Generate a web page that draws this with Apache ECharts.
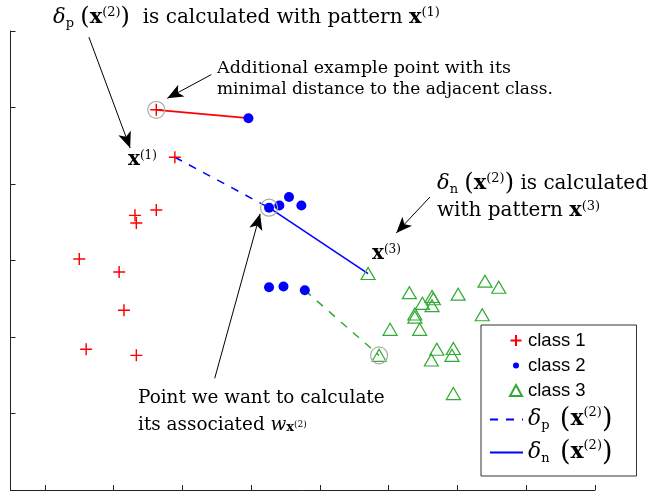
<!DOCTYPE html>
<html>
<head>
<meta charset="utf-8">
<script src="https://cdn.jsdelivr.net/npm/echarts@6/dist/echarts.min.js"></script>
<style>
  html, body { margin: 0; padding: 0; background: #fff; }
  #chart { width: 653px; height: 496px; }
</style>
</head>
<body>
<div id="chart"></div>
<script>
// axis ranges and tick positions (tick units, no labels on the picture)
var xRange = [-0.5, 8];
var yRange = [0, 6];
var xTicks = [0, 1, 2, 3, 4, 5, 6, 7, 8];

// class 1 (red +), first one is the circled "additional example", second is x(1)
var class1 = [
  [1.62, 4.97], [1.89, 4.35], [1.31, 3.59], [1.33, 3.49], [1.62, 3.66],
  [0.50, 3.02], [1.08, 2.85], [1.15, 2.35], [0.60, 1.84], [1.33, 1.76]
];
// class 2 (blue dots), index 1 is x(2)
var class2 = [
  [2.96, 4.86], [3.26, 3.69], [3.41, 3.72], [3.55, 3.83], [3.73, 3.72],
  [3.26, 2.65], [3.47, 2.66], [3.78, 2.61]
];
// class 3 (green triangles), index 0 is x(3), index 14 is circled
var class3 = [
  [4.70, 2.83], [5.30, 2.58], [5.63, 2.53], [5.65, 2.50], [5.49, 2.44],
  [5.63, 2.41], [5.38, 2.30], [5.38, 2.26], [6.01, 2.56], [6.40, 2.73],
  [6.60, 2.65], [6.36, 2.29], [5.02, 2.10], [5.45, 2.10], [4.86, 1.76],
  [5.70, 1.84], [5.94, 1.85], [5.62, 1.70], [5.92, 1.76], [5.94, 1.26]
];

var deltaP = [class1[1], class2[1]];
var deltaN = [class2[1], class3[0]];
var extraRed = [class1[0], class2[0]];
var extraGreen = [class2[7], class3[14]];
var circled = [class1[0], class2[1], class3[14]];

// annotation arrows [from, to]
var arrows = [
  [[0.64, 5.92], [1.24, 4.47]],
  [[2.42, 5.43], [1.78, 5.12]],
  [[5.60, 3.83], [5.11, 3.36]],
  [[2.47, 1.46], [3.13, 3.61]]
];

var RED = '#ff0000', BLUE = '#0000ff', GREEN = '#33aa33';
var PLUS = 'path://M4.4,0H5.6V4.4H10V5.6H5.6V10H4.4V5.6H0V4.4H4.4Z';
var SERIF = 'DejaVu Serif';

// legend icons drawn in a 33x14 box (the extra moves keep the box size)
var ICON_PLUS = 'path://M0,0M33,14M25,1.5H27V6H31.5V8H27V12.5H25V8H20.5V6H25Z';
var ICON_DOT = 'path://M0,0M33,14M23,7A3,3 0 1,0 29,7A3,3 0 1,0 23,7Z';
var ICON_TRI = 'path://M0,0M33,14M26,1.5L32,12.5L20,12.5Z';

function delta(sub, sup) {
  return '{m|δ}{sb|' + sub + '} {p|(}{b|x}{sp|(' + sup + ')}{p|)}';
}

function makeRich(s) {
  return {
    m: { fontFamily: SERIF, fontStyle: 'italic', fontSize: s + 1, fill: '#000' },
    sb: { fontFamily: SERIF, fontSize: Math.round(s * 0.65), verticalAlign: 'bottom', fill: '#000' },
    p: { fontFamily: SERIF, fontSize: s + 4, fill: '#000' },
    b: { fontFamily: SERIF, fontWeight: 'bold', fontSize: s + 1, fill: '#000' },
    sp: { fontFamily: SERIF, fontSize: Math.round(s * 0.65), verticalAlign: 'top', fill: '#000' },
    t: { fontFamily: SERIF, fontSize: s, fill: '#000' },
    w: { fontFamily: SERIF, fontStyle: 'italic', fontSize: s, fill: '#000' },
    ws: { fontFamily: SERIF, fontWeight: 'bold', fontSize: 13, verticalAlign: 'bottom', fill: '#000' },
    wss: { fontFamily: SERIF, fontSize: 9, verticalAlign: 'middle', fill: '#000' }
  };
}

function label(x, y, text, size) {
  return {
    type: 'text', x: x, y: y, z: 100,
    style: {
      text: text, rich: makeRich(size), fill: '#000',
      font: size + 'px "' + SERIF + '"',
      verticalAlign: 'middle'
    }
  };
}

var legendNames = {
  'class 1': 'class 1',
  'class 2': 'class 2',
  'class 3': 'class 3',
  'dp': '{lm|δ}{lsb|p}  {lp|(}{lb|x}{lsp|(2)}{lp|)}',
  'dn': '{lm|δ}{lsb|n}  {lp|(}{lb|x}{lsp|(2)}{lp|)}'
};

var hideSymbol = { color: 'transparent', borderColor: 'transparent', borderWidth: 0, opacity: 0 };

var chart = echarts.init(document.getElementById('chart'));
var option = {
  animation: false,
  grid: { left: 10.5, right: 58, top: 31, bottom: 6 },
  xAxis: {
    type: 'value', min: xRange[0], max: xRange[1],
    axisLine: { onZero: false, lineStyle: { color: '#222', width: 1 } },
    axisTick: { show: true, inside: true, length: 5, customValues: xTicks, lineStyle: { color: '#222' } },
    axisLabel: { show: false },
    splitLine: { show: false }
  },
  yAxis: {
    type: 'value', min: yRange[0], max: yRange[1], interval: 1,
    axisLine: { show: true, onZero: false, lineStyle: { color: '#222', width: 1 } },
    axisTick: { show: true, inside: true, length: 5, lineStyle: { color: '#222' } },
    axisLabel: { show: false },
    splitLine: { show: false }
  },
  legend: {
    orient: 'vertical', left: 481, top: 325,
    padding: [6, 24, 10, 8],
    itemWidth: 33, itemHeight: 14, itemGap: 6,
    backgroundColor: '#fff', borderColor: '#333', borderWidth: 1, borderRadius: 0,
    data: [
      { name: 'class 1', icon: ICON_PLUS, itemStyle: { color: RED } },
      { name: 'class 2', icon: ICON_DOT, itemStyle: { color: BLUE } },
      { name: 'class 3', icon: ICON_TRI, itemStyle: { color: 'transparent', borderColor: GREEN, borderWidth: 2 } },
      { name: 'dp', itemStyle: hideSymbol },
      { name: 'dn', itemStyle: hideSymbol }
    ],
    formatter: function (n) { return legendNames[n]; },
    textStyle: {
      fontFamily: 'Liberation Sans', fontSize: 18.5, color: '#000', lineHeight: 18,
      rich: {
        lm: { fontFamily: SERIF, fontStyle: 'italic', fontSize: 22, lineHeight: 26 },
        lsb: { fontFamily: SERIF, fontSize: 13, verticalAlign: 'bottom', lineHeight: 26 },
        lp: { fontFamily: SERIF, fontSize: 27, lineHeight: 26 },
        lb: { fontFamily: SERIF, fontWeight: 'bold', fontSize: 22, lineHeight: 26 },
        lsp: { fontFamily: SERIF, fontSize: 13, verticalAlign: 'top', lineHeight: 26 }
      }
    }
  },
  series: [
    {
      name: 'extraRed', type: 'line', data: extraRed, symbol: 'none', z: 2,
      lineStyle: { color: RED, width: 1.8 }
    },
    {
      name: 'extraGreen', type: 'line', data: extraGreen, symbol: 'none', z: 2,
      lineStyle: { color: GREEN, width: 1.5, type: [8, 8] }
    },
    {
      name: 'dp', type: 'line', data: deltaP, symbol: 'none', z: 2, color: BLUE,
      lineStyle: { color: BLUE, width: 1.5, type: [8, 8] }
    },
    {
      name: 'dn', type: 'line', data: deltaN, symbol: 'none', z: 2, color: BLUE,
      lineStyle: { color: BLUE, width: 1.5 }
    },
    {
      name: 'class 1', type: 'scatter', data: class1, symbol: PLUS, symbolSize: 12, z: 3,
      itemStyle: { color: RED, opacity: 1 }
    },
    {
      name: 'class 2', type: 'scatter', data: class2, symbol: 'circle', symbolSize: 10, z: 3,
      itemStyle: { color: BLUE, opacity: 1 }
    },
    {
      name: 'class 3', type: 'scatter', data: class3, symbol: 'triangle', symbolSize: [14, 12], z: 3,
      itemStyle: { color: 'transparent', borderColor: GREEN, borderWidth: 1.2, opacity: 1 }
    },
    {
      name: 'circled', type: 'scatter', data: circled, symbol: 'circle', symbolSize: 17, z: 4,
      itemStyle: { color: 'transparent', borderColor: '#aaa', borderWidth: 1.2, opacity: 1 },
      markLine: {
        silent: true, symbol: ['none', 'arrow'], symbolSize: [10, 16],
        label: { show: false },
        lineStyle: { color: '#000', width: 1, type: 'solid' },
        data: arrows.map(function (a) { return [{ coord: a[0] }, { coord: a[1] }]; })
      }
    }
  ],
  graphic: [
    label(53, 18, delta('p', '2') + '{t|  is calculated with pattern }{b|x}{sp|(1)}', 20),
    label(217, 68, 'Additional example point with its', 17.5),
    label(217, 90, 'minimal distance to the adjacent class.', 17),
    label(437, 184, delta('n', '2') + '{t| is calculated}', 20),
    label(437, 211, '{t|with pattern }{b|x}{sp|(3)}', 20),
    label(128, 160, '{b|x}{sp|(1)}', 19),
    label(372, 254, '{b|x}{sp|(3)}', 19),
    label(138, 398, 'Point we want to calculate', 18.4),
    label(138, 425, '{t|its associated }{w|w}{ws|x}{wss|(2)}', 18.4)
  ]
};
chart.setOption(option);
</script>
</body>
</html>
